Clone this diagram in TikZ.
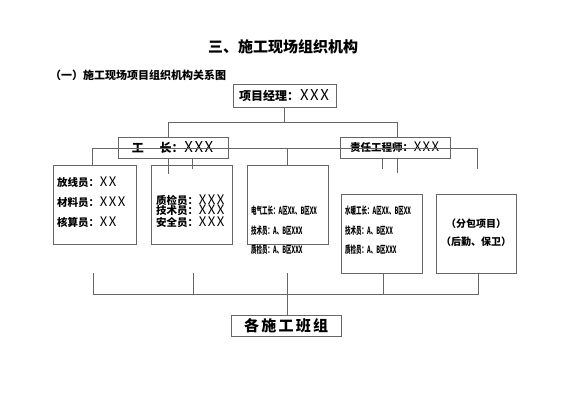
\documentclass[tikz,border=0pt]{standalone}
\usepackage{fontspec}
\setmainfont{Noto Sans CJK SC}
\usetikzlibrary{positioning}
\newcommand\xname{\makebox[0.85em]{\mdseries\scalebox{1.25}{X}}}

\begin{document}
\begin{tikzpicture}[
  x=1pt, y=-1pt,
  box/.style={draw=black!60, line width=0.7pt, inner sep=0pt},
  lab/.style={inner sep=0pt, anchor=west, font=\fontsize{10.5}{12}\selectfont\bfseries},
  tiny/.style={inner sep=0pt, anchor=west, font=\fontsize{10}{11}\selectfont\bfseries},
  link/.style={draw=black!60, line width=0.7pt}
]
\useasboundingbox (0,0) rectangle (566,400);
% headings
\node[font=\fontsize{15}{17}\selectfont\bfseries] (title) at (283,47) {三、施工现场组织机构};
\node[inner sep=0pt, anchor=west, font=\fontsize{11}{13}\selectfont\bfseries] (sub) at (50,75) {（一）施工现场项目组织机构关系图};
% boxes
\node[box, minimum width=103pt, minimum height=23pt, font=\fontsize{12}{14}\selectfont\bfseries] (pm) at (284.5,95.5) {项目经理：\xname\xname\xname};
\node[box, minimum width=110pt, minimum height=21pt, font=\fontsize{12}{14}\selectfont\bfseries] (gz) at (173,147.5) {工\hspace{1.3em}长：\xname\xname\xname};
\node[box, minimum width=110pt, minimum height=21pt, font=\fontsize{10.5}{12}\selectfont\bfseries] (zr) at (395,147.5) {责任工程师：\xname\xname\xname};
\node[box, minimum width=83pt, minimum height=79pt] (b1) at (94.5,204.5) {};
\node[box, minimum width=81pt, minimum height=79pt] (b2) at (191.5,204.5) {};
\node[box, minimum width=81pt, minimum height=79pt] (b3) at (287.5,204.5) {};
\node[box, minimum width=81pt, minimum height=79pt] (b4) at (381.5,233.5) {};
\node[box, minimum width=80pt, minimum height=79pt] (b5) at (476,233.5) {};
\node[box, minimum width=110pt, minimum height=21pt, font=\fontsize{15}{17}\selectfont\bfseries\addfontfeatures{LetterSpace=15}] (bz) at (286,325.5) {各施工班组};
% box texts
\node[lab] (fx) at (57,182) {放线员：\xname\xname};
\node[lab] (cl) at (57,202) {材料员：\xname\xname\xname};
\node[lab] (hs) at (57,222) {核算员：\xname\xname};
\node[lab] (zj) at (156,200) {质检员：\xname\xname\xname};
\node[lab] (js) at (156,210) {技术员：\xname\xname\xname};
\node[lab] (aq) at (156,222) {安全员：\xname\xname\xname};
\node[tiny] (dq) at (251,211) {\scalebox{0.55}[1]{电气工长：A区XX、B区XX}};
\node[tiny] (js3) at (251,231) {\scalebox{0.55}[1]{技术员：A、B区XXX}};
\node[tiny] (zj3) at (251,250) {\scalebox{0.55}[1]{质检员：A、B区XXX}};
\node[tiny] (sn) at (345,211) {\scalebox{0.55}[1]{水暖工长：A区XX、B区XX}};
\node[tiny] (js4) at (345,231) {\scalebox{0.55}[1]{技术员：A、B区XX}};
\node[tiny] (zj4) at (345,250) {\scalebox{0.55}[1]{质检员：A、B区XXX}};
\node[font=\fontsize{10}{12}\selectfont\bfseries, inner sep=0pt] (fb) at (476,224) {（分包项目）};
\node[font=\fontsize{10}{12}\selectfont\bfseries, inner sep=0pt] (hq) at (476,242) {（后勤、保卫）};
% free ends
\coordinate (t1) at (168,122);
\coordinate (t2) at (397,122);
\coordinate (m1) at (92,148);
\coordinate (m2) at (477,148);
\coordinate (e1) at (477,169);
\coordinate (g1) at (168,174);
\coordinate (g2) at (192,169);
\coordinate (r1) at (382,169);
\coordinate (r2) at (397,173);
\coordinate (u1) at (93,273);
\coordinate (u2) at (193,273);
\coordinate (u3) at (287,273);
\coordinate (w1) at (93,294);
\coordinate (w2) at (478,294);
% connectors
\draw[link] (pm.south) -- (pm.south |- t1);
\draw[link] (gz.north -| t1) |- (t2) -- (zr.north -| t2);
\draw[link] (m1) -- (m2);
\draw[link] (b1.north -| m1) -- (m1);
\draw[link] (b3.north) -- (b3.north |- m1);
\draw[link] (m2) -- (e1);
\draw[link] (gz.south -| g1) -- (g1);
\draw[link] (gz.south -| g2) -- (g2);
\draw[link] (zr.south -| r1) -- (r1);
\draw[link] (zr.south -| r2) -- (r2);
\draw[link] (u1) -- (w1) -- (w2) -- (b5.south -| w2);
\draw[link] (u2) -- (u2 |- w1);
\draw[link] (u3) -- (bz.north -| u3);
\draw[link] (b4.south -| 383,0) -- (383,294);
\end{tikzpicture}
\end{document}
